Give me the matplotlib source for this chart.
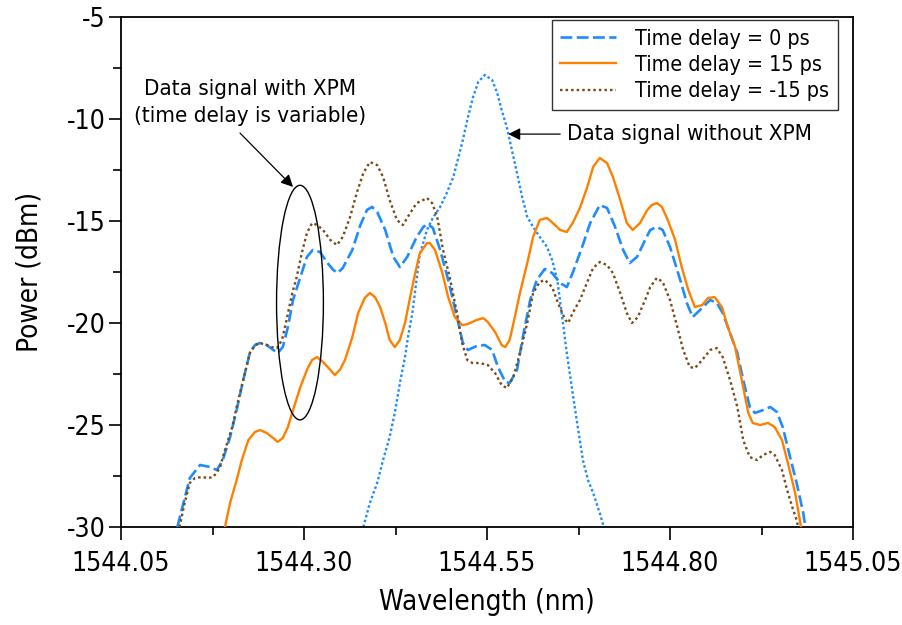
import matplotlib
matplotlib.use("Agg")
import matplotlib.pyplot as plt
from matplotlib.patches import Ellipse
from matplotlib.ticker import FixedLocator, MultipleLocator

# ---------------- data ----------------
x_d0 = [1544.127, 1544.144, 1544.158, 1544.172, 1544.181, 1544.189, 1544.199, 1544.208,
        1544.217, 1544.226, 1544.233, 1544.240, 1544.249, 1544.258, 1544.264, 1544.271,
        1544.278, 1544.285, 1544.295, 1544.304, 1544.312, 1544.322, 1544.331, 1544.340,
        1544.346, 1544.353, 1544.366, 1544.377, 1544.386, 1544.393, 1544.400, 1544.411,
        1544.422, 1544.431, 1544.441, 1544.454, 1544.463, 1544.469, 1544.476, 1544.486,
        1544.497, 1544.509, 1544.517, 1544.524, 1544.536, 1544.547, 1544.557, 1544.565,
        1544.575, 1544.581, 1544.591, 1544.599, 1544.609, 1544.618, 1544.629, 1544.639,
        1544.650, 1544.659, 1544.667, 1544.680, 1544.691, 1544.704, 1544.714, 1544.725,
        1544.736, 1544.745, 1544.755, 1544.766, 1544.773, 1544.782, 1544.790, 1544.800,
        1544.814, 1544.823, 1544.831, 1544.841, 1544.855, 1544.864, 1544.872, 1544.882,
        1544.892, 1544.900, 1544.909, 1544.916, 1544.927, 1544.937, 1544.946, 1544.954,
        1544.964, 1544.973, 1544.982, 1544.985]
y_d0 = [-30.0, -27.60, -26.96, -27.06, -27.21, -26.72, -25.59, -24.27,
        -22.79, -21.47, -21.08, -20.98, -21.08, -21.32, -21.47, -21.18,
        -20.20, -18.87, -17.75, -16.76, -16.42, -16.52, -17.01, -17.40,
        -17.55, -17.30, -16.42, -15.20, -14.46, -14.31, -14.56, -15.44,
        -16.76, -17.26, -16.76, -15.78, -15.29, -15.15, -15.34, -16.42,
        -17.89, -19.71, -20.98, -21.32, -21.13, -21.08, -21.32, -22.16,
        -22.89, -22.94, -22.30, -20.69, -18.87, -17.89, -17.35, -17.55,
        -18.04, -18.24, -17.55, -16.27, -15.10, -14.22, -14.36, -15.29,
        -16.42, -17.06, -16.76, -15.93, -15.44, -15.29, -15.44, -16.27,
        -17.89, -19.02, -19.71, -19.36, -18.87, -19.02, -19.51, -20.49,
        -21.47, -22.79, -24.12, -24.41, -24.27, -24.12, -24.36, -25.10,
        -26.57, -27.84, -29.31, -30.0]

x_d15 = [1544.192, 1544.199, 1544.208, 1544.215, 1544.224, 1544.233, 1544.240, 1544.249,
         1544.258, 1544.264, 1544.271, 1544.278, 1544.285, 1544.295, 1544.304, 1544.311,
         1544.318, 1544.326, 1544.336, 1544.342, 1544.349, 1544.356, 1544.366, 1544.374,
         1544.383, 1544.390, 1544.397, 1544.404, 1544.411, 1544.417, 1544.424, 1544.431,
         1544.438, 1544.445, 1544.452, 1544.458, 1544.468, 1544.472, 1544.479, 1544.489,
         1544.497, 1544.506, 1544.516, 1544.524, 1544.536, 1544.545, 1544.551, 1544.561,
         1544.570, 1544.575, 1544.581, 1544.588, 1544.595, 1544.605, 1544.613, 1544.622,
         1544.632, 1544.640, 1544.650, 1544.659, 1544.667, 1544.677, 1544.687, 1544.695,
         1544.704, 1544.714, 1544.722, 1544.732, 1544.741, 1544.749, 1544.759, 1544.769,
         1544.775, 1544.782, 1544.789, 1544.797, 1544.807, 1544.816, 1544.825, 1544.834,
         1544.844, 1544.852, 1544.861, 1544.871, 1544.879, 1544.889, 1544.898, 1544.907,
         1544.913, 1544.923, 1544.934, 1544.943, 1544.953, 1544.961, 1544.971, 1544.978,
         1544.979]
y_d15 = [-30.0, -28.82, -27.70, -26.72, -25.74, -25.34, -25.25, -25.39,
         -25.64, -25.83, -25.64, -25.10, -24.27, -23.14, -22.30, -21.81,
         -21.67, -21.91, -22.30, -22.55, -22.30, -21.81, -20.69, -19.51,
         -18.77, -18.53, -18.73, -19.22, -20.00, -20.83, -21.18, -20.83,
         -20.00, -18.73, -17.55, -16.60, -16.08, -16.08, -16.42, -17.55,
         -18.73, -19.71, -20.10, -20.05, -19.85, -19.76, -19.95, -20.44,
         -21.08, -21.18, -20.83, -19.71, -18.53, -17.06, -15.78, -14.95,
         -14.85, -15.10, -15.44, -15.54, -15.10, -14.36, -13.33, -12.35,
         -11.91, -12.16, -12.84, -13.97, -15.10, -15.44, -15.10, -14.46,
         -14.22, -14.12, -14.31, -14.95, -15.93, -17.26, -18.38, -19.22,
         -19.12, -18.77, -18.73, -19.22, -20.20, -21.18, -22.79, -24.41,
         -24.90, -25.00, -24.90, -25.10, -25.74, -26.86, -28.33, -29.80,
         -30.0]

x_dm15 = [1544.130, 1544.137, 1544.144, 1544.151, 1544.161, 1544.169, 1544.176, 1544.185,
          1544.192, 1544.202, 1544.208, 1544.217, 1544.226, 1544.233, 1544.240, 1544.249,
          1544.256, 1544.263, 1544.270, 1544.277, 1544.284, 1544.290, 1544.297, 1544.304,
          1544.311, 1544.318, 1544.326, 1544.336, 1544.345, 1544.353, 1544.363, 1544.372,
          1544.381, 1544.390, 1544.400, 1544.408, 1544.417, 1544.427, 1544.435, 1544.445,
          1544.454, 1544.463, 1544.468, 1544.475, 1544.482, 1544.490, 1544.499, 1544.509,
          1544.516, 1544.523, 1544.530, 1544.540, 1544.551, 1544.561, 1544.570, 1544.577,
          1544.586, 1544.595, 1544.605, 1544.613, 1544.622, 1544.629, 1544.639, 1544.647,
          1544.657, 1544.661, 1544.667, 1544.677, 1544.687, 1544.695, 1544.704, 1544.714,
          1544.722, 1544.732, 1544.741, 1544.748, 1544.756, 1544.766, 1544.773, 1544.782,
          1544.790, 1544.800, 1544.810, 1544.818, 1544.827, 1544.834, 1544.844, 1544.855,
          1544.864, 1544.872, 1544.882, 1544.892, 1544.900, 1544.909, 1544.919, 1544.927,
          1544.937, 1544.943, 1544.953, 1544.960, 1544.967, 1544.973, 1544.975]
y_dm15 = [-30.0, -28.82, -27.84, -27.60, -27.55, -27.60, -27.55, -27.11,
          -26.23, -25.10, -24.12, -22.79, -21.47, -21.08, -20.98, -21.08,
          -21.18, -21.23, -20.83, -19.71, -18.53, -17.75, -16.57, -15.59,
          -15.10, -15.20, -15.44, -15.93, -16.18, -15.78, -14.80, -13.63,
          -12.65, -12.11, -12.26, -12.84, -13.97, -14.95, -15.20, -14.61,
          -14.12, -13.97, -13.87, -14.12, -14.80, -16.42, -17.75, -19.51,
          -20.98, -21.81, -21.96, -21.96, -22.06, -22.45, -23.04, -23.19,
          -22.65, -21.47, -20.00, -18.53, -17.99, -17.89, -18.24, -19.02,
          -19.85, -20.00, -19.51, -18.87, -17.99, -17.30, -17.01, -17.16,
          -17.55, -18.53, -19.51, -20.00, -19.71, -18.87, -18.24, -17.79,
          -17.99, -18.87, -20.20, -21.32, -22.16, -22.21, -21.81, -21.32,
          -21.23, -21.67, -22.79, -24.12, -25.74, -26.57, -26.72, -26.47,
          -26.32, -26.47, -27.21, -28.19, -29.02, -29.66, -30.0]

x_noxpm = [1544.381, 1544.390, 1544.400, 1544.408, 1544.417, 1544.424, 1544.431, 1544.438,
           1544.442, 1544.448, 1544.452, 1544.458, 1544.468, 1544.476, 1544.486, 1544.495,
           1544.504, 1544.510, 1544.517, 1544.524, 1544.531, 1544.538, 1544.547, 1544.557,
           1544.564, 1544.570, 1544.577, 1544.584, 1544.591, 1544.598, 1544.605, 1544.613,
           1544.622, 1544.632, 1544.639, 1544.646, 1544.652, 1544.659, 1544.667, 1544.674,
           1544.681, 1544.688, 1544.695, 1544.704, 1544.708, 1544.709]
y_noxpm = [-30.0, -28.82, -27.84, -26.72, -25.59, -24.41, -22.94, -21.67,
           -20.69, -19.51, -18.38, -16.67, -15.44, -14.85, -14.31, -13.63,
           -12.84, -12.01, -11.03, -9.90, -8.92, -8.19, -7.84, -8.09,
           -8.73, -9.56, -10.39, -11.52, -12.65, -13.82, -14.80, -15.29,
           -15.78, -16.27, -16.91, -17.89, -19.51, -21.47, -23.43, -25.10,
           -26.72, -27.70, -28.33, -29.31, -29.80, -30.0]

labels = ["Time delay = 0 ps", "Time delay = 15 ps", "Time delay = -15 ps"]
xticks = [1544.05, 1544.30, 1544.55, 1544.80, 1545.05]
xtick_labels = ["1544.05", "1544.30", "1544.55", "1544.80", "1545.05"]
xminor = [1544.175, 1544.425, 1544.675, 1544.925]
yticks = [-30, -25, -20, -15, -10, -5]
ytick_labels = ["-30", "-25", "-20", "-15", "-10", "-5"]

# ---------------- style ----------------
plt.rcParams['font.family'] = ["DejaVu Sans"]
plt.rcParams['font.stretch'] = 'condensed'
plt.rcParams['axes.unicode_minus'] = False
plt.rcParams['lines.scale_dashes'] = False

BLUE = "#1E8CFF"
ORANGE = "#FF8000"
BROWN = "#7B4A14"

fig = plt.figure(figsize=(9.02, 6.25), dpi=100)
ax = fig.add_axes([121/902, 1-527/625, (853-121)/902, (527-17)/625])

ax.plot(x_noxpm, y_noxpm, color=BLUE, lw=1.7, dashes=(1.8, 1.8), zorder=2)
l0, = ax.plot(x_d0, y_d0, color=BLUE, lw=1.9, dashes=(8.5, 3.2), label=labels[0], zorder=3)
l1, = ax.plot(x_d15, y_d15, color=ORANGE, lw=1.7, label=labels[1], zorder=3)
l2, = ax.plot(x_dm15, y_dm15, color=BROWN, lw=1.7, dashes=(1.8, 2.2), label=labels[2], zorder=4)

ax.set_xlim(1544.05, 1545.05)
ax.set_ylim(-30, -5)
ax.xaxis.set_major_locator(FixedLocator(xticks))
ax.set_xticklabels(xtick_labels)
ax.xaxis.set_minor_locator(FixedLocator(xminor))
ax.yaxis.set_major_locator(FixedLocator(yticks))
ax.set_yticklabels(ytick_labels)
ax.yaxis.set_minor_locator(MultipleLocator(2.5))
ax.tick_params(which='major', direction='out', length=9, width=1.2, labelsize=19, pad=2)
ax.tick_params(which='minor', direction='out', length=6, width=1.2)
ax.tick_params(axis='x', which='major', pad=8)
for s in ax.spines.values():
    s.set_linewidth(1.3)

ax.set_xlabel("Wavelength (nm)", fontsize=20, labelpad=8)
ax.set_ylabel("Power (dBm)", fontsize=20, labelpad=17)

leg = ax.legend(handles=[l0, l1, l2], loc='upper right',
                bbox_to_anchor=(838/902, 1-20/625), bbox_transform=fig.transFigure,
                borderaxespad=0, fontsize=15.4, frameon=True, fancybox=False,
                edgecolor='black', handlelength=2.6, handletextpad=0.9,
                labelspacing=0.3, borderpad=0.4)
leg.get_frame().set_linewidth(1.0)

# annotations
ax.text(1544.226, -9.2, "Data signal with XPM\n(time delay is variable)",
        ha='center', va='center', fontsize=16, linespacing=1.4)
ax.annotate("", xy=(1544.285, -13.33), xytext=(1544.2126, -10.69),
            arrowprops=dict(arrowstyle='-|>', color='black', lw=0.9,
                            mutation_scale=18, shrinkA=0, shrinkB=0))
ax.text(1544.659, -10.74, "Data signal without XPM", ha='left', va='center', fontsize=16)
ax.annotate("", xy=(1544.579, -10.74), xytext=(1544.650, -10.74),
            arrowprops=dict(arrowstyle='-|>', color='black', lw=0.9,
                            mutation_scale=18, shrinkA=0, shrinkB=0))

ell = Ellipse((1544.2945, -19.0), width=0.064, height=11.5,
              fill=False, edgecolor='black', lw=1.0, zorder=5)
ax.add_patch(ell)

fig.savefig("out.png", dpi=100)
